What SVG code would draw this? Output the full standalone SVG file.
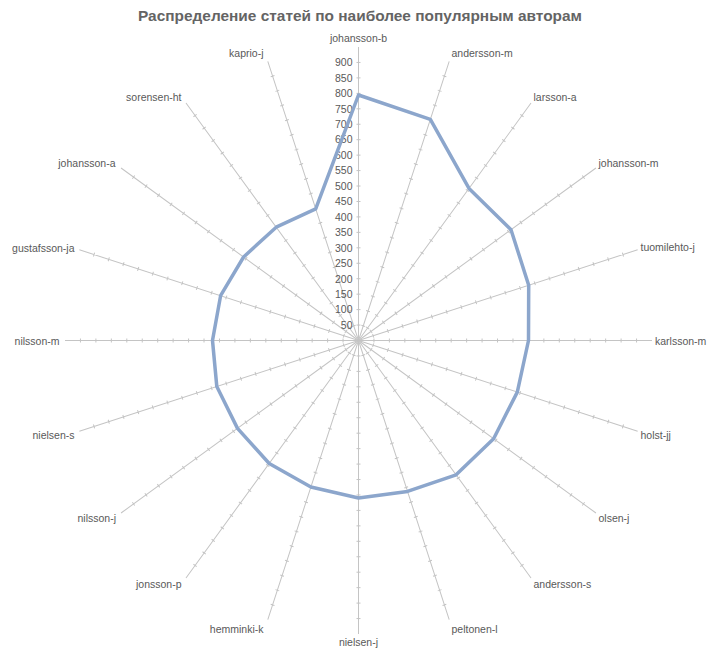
<svg xmlns="http://www.w3.org/2000/svg" xmlns:xlink="http://www.w3.org/1999/xlink" width="707" height="652" viewBox="0 0 707 652">
<style>
.t{font-family:"Liberation Sans",Arial,sans-serif;font-size:10.5px;fill:#595959}
.e{text-anchor:end}
.s{text-anchor:start}
.m{text-anchor:middle}
.ax{fill:none;stroke:#c4c4c4;stroke-width:1}
.ser{fill:none;stroke:#8ca6cc;stroke-width:3.5;stroke-linejoin:round}
.title{font-family:"Liberation Sans",Arial,sans-serif;font-size:15px;font-weight:bold;fill:#646464;text-anchor:middle}
</style>
<defs>
<path id="axis" class="ax" d="M358.5 340.5V47M356.5 325.05H360.5M356.5 309.61H360.5M356.5 294.16H360.5M356.5 278.71H360.5M356.5 263.27H360.5M356.5 247.82H360.5M356.5 232.37H360.5M356.5 216.92H360.5M356.5 201.48H360.5M356.5 186.03H360.5M356.5 170.58H360.5M356.5 155.14H360.5M356.5 139.69H360.5M356.5 124.24H360.5M356.5 108.8H360.5M356.5 93.35H360.5M356.5 77.9H360.5M356.5 62.45H360.5"/>
</defs>
<rect width="707" height="652" fill="#ffffff"/>
<text id="title" class="title" x="360" y="20.5" textLength="444" lengthAdjust="spacingAndGlyphs">Распределение статей по наиболее популярным авторам</text>
<g id="axes">
<use xlink:href="#axis"/>
<use xlink:href="#axis" transform="rotate(18 358.5 340.5)"/>
<use xlink:href="#axis" transform="rotate(36 358.5 340.5)"/>
<use xlink:href="#axis" transform="rotate(54 358.5 340.5)"/>
<use xlink:href="#axis" transform="rotate(72 358.5 340.5)"/>
<use xlink:href="#axis" transform="rotate(90 358.5 340.5)"/>
<use xlink:href="#axis" transform="rotate(108 358.5 340.5)"/>
<use xlink:href="#axis" transform="rotate(126 358.5 340.5)"/>
<use xlink:href="#axis" transform="rotate(144 358.5 340.5)"/>
<use xlink:href="#axis" transform="rotate(162 358.5 340.5)"/>
<use xlink:href="#axis" transform="rotate(180 358.5 340.5)"/>
<use xlink:href="#axis" transform="rotate(198 358.5 340.5)"/>
<use xlink:href="#axis" transform="rotate(216 358.5 340.5)"/>
<use xlink:href="#axis" transform="rotate(234 358.5 340.5)"/>
<use xlink:href="#axis" transform="rotate(252 358.5 340.5)"/>
<use xlink:href="#axis" transform="rotate(270 358.5 340.5)"/>
<use xlink:href="#axis" transform="rotate(288 358.5 340.5)"/>
<use xlink:href="#axis" transform="rotate(306 358.5 340.5)"/>
<use xlink:href="#axis" transform="rotate(324 358.5 340.5)"/>
<use xlink:href="#axis" transform="rotate(342 358.5 340.5)"/>
</g>
<g id="value-labels" class="t e">
<text x="352.5" y="328.85">50</text>
<text x="352.5" y="313.41">100</text>
<text x="352.5" y="297.96">150</text>
<text x="352.5" y="282.51">200</text>
<text x="352.5" y="267.07">250</text>
<text x="352.5" y="251.62">300</text>
<text x="352.5" y="236.17">350</text>
<text x="352.5" y="220.72">400</text>
<text x="352.5" y="205.28">450</text>
<text x="352.5" y="189.83">500</text>
<text x="352.5" y="174.38">550</text>
<text x="352.5" y="158.94">600</text>
<text x="352.5" y="143.49">650</text>
<text x="352.5" y="128.04">700</text>
<text x="352.5" y="112.6">750</text>
<text x="352.5" y="97.15">800</text>
<text x="352.5" y="81.7">850</text>
<text x="352.5" y="66.25">900</text>
</g>
<g id="series">
<polygon class="ser" points="358.5,95 430.35,119.38 469,188.4 511,229.7 528.7,285.2 528.5,340.5 517.3,392.1 493.6,438.7 456.1,474.8 407.5,491.4 358.5,498 310.9,487 269.2,463.5 237.5,428.4 216.8,386.5 212.5,340.5 220.6,295.7 243.6,257 276.2,227.2 315.7,208.8"/>
</g>
<g id="category-labels" class="t">
<text id="c0" class="m" x="358.5" y="42.3">johansson-b</text>
<text id="c1" class="s" x="451.5" y="56.8">andersson-m</text>
<text id="c2" class="s" x="533.5" y="100.8">larsson-a</text>
<text id="c3" class="s" x="598.5" y="166.8">johansson-m</text>
<text id="c4" class="s" x="640.5" y="251.3">tuomilehto-j</text>
<text id="c5" class="s" x="655" y="344.8">karlsson-m</text>
<text id="c6" class="s" x="640.5" y="438.8">holst-jj</text>
<text id="c7" class="s" x="598.5" y="522.3">olsen-j</text>
<text id="c8" class="s" x="533.5" y="587.8">andersson-s</text>
<text id="c9" class="s" x="451.5" y="632.8">peltonen-l</text>
<text id="c10" class="m" x="358.5" y="646.3">nielsen-j</text>
<text id="c11" class="e" x="263.5" y="632.8">hemminki-k</text>
<text id="c12" class="e" x="181.5" y="587.8">jonsson-p</text>
<text id="c13" class="e" x="116" y="522.3">nilsson-j</text>
<text id="c14" class="e" x="74.5" y="438.8">nielsen-s</text>
<text id="c15" class="e" x="59.5" y="344.8">nilsson-m</text>
<text id="c16" class="e" x="74.5" y="251.8">gustafsson-ja</text>
<text id="c17" class="e" x="115.5" y="166.8">johansson-a</text>
<text id="c18" class="e" x="181.5" y="100.8">sorensen-ht</text>
<text id="c19" class="e" x="263.5" y="56.8">kaprio-j</text>
</g>
</svg>
